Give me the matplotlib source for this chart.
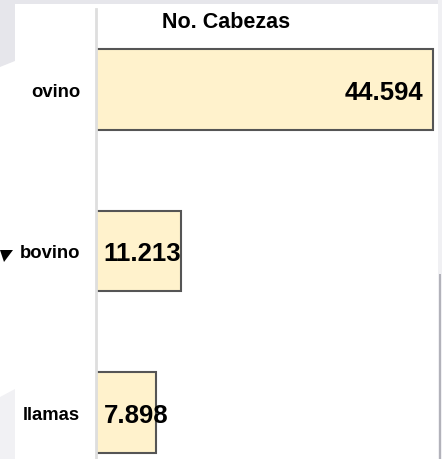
import matplotlib
matplotlib.use("Agg")
import matplotlib.pyplot as plt
from matplotlib.patches import Rectangle, Polygon

plt.rcParams['font.family'] = ['Liberation Sans', 'DejaVu Sans']

# data
categories = ['ovino', 'bovino', 'llamas']
values = [44.594, 11.213, 7.898]
labels = ['44.594', '11.213', '7.898']
title = 'No. Cabezas'

W, H = 442, 460
fig = plt.figure(figsize=(W / 100, H / 100), dpi=100)
fig.patch.set_facecolor('white')

# screenshot background bits (grey page behind white card)
grey = '#e6e6eb'
fig.patches.append(Rectangle((0, 1 - 5 / H), 1, 5 / H, transform=fig.transFigure,
                             facecolor=grey, edgecolor='none', zorder=0))
fig.patches.append(Polygon([(0, 1), (15 / W, 1), (15 / W, 1 - 62 / H), (0, 1 - 68 / H)],
                           closed=True, transform=fig.transFigure,
                           facecolor=grey, edgecolor='none', zorder=0))
fig.patches.append(Polygon([(0, 0), (15 / W, 0), (15 / W, 70 / H), (0, 62 / H)],
                           closed=True, transform=fig.transFigure,
                           facecolor='#f1f1f4', edgecolor='none', zorder=0))
fig.patches.append(Rectangle((438 / W, 0), 4 / W, 1, transform=fig.transFigure,
                             facecolor='#f0f0f3', edgecolor='none', zorder=0))
fig.patches.append(Rectangle((439 / W, 0), 2 / W, 185 / H, transform=fig.transFigure,
                             facecolor='#b2b2ba', edgecolor='none', zorder=0))
# little dropdown triangle
fig.patches.append(Polygon([(0, 1 - 251 / H), (13 / W, 1 - 251 / H), (4 / W, 1 - 263 / H)],
                           closed=True, transform=fig.transFigure,
                           facecolor='black', edgecolor='none', zorder=3))

# axes placement in pixels
x0, x1 = 96, 438
y_top = 10
ax = fig.add_axes([x0 / W, 0, (x1 - x0) / W, (H - y_top) / H])
ax.patch.set_alpha(0)

px_per_unit = 337 / values[0]
pos = list(range(len(categories)))
ax.barh(pos, values, height=0.5, color='#fff2cc', edgecolor='#555555', linewidth=1.5, zorder=2)

ax.set_xlim(0, (x1 - x0) / px_per_unit)
step = 161.5
ax.set_ylim((H - 90.5) / step, (y_top - 90.5) / step)

for s in ['top', 'right', 'bottom']:
    ax.spines[s].set_visible(False)
ax.spines['left'].set_color('#dedede')
ax.spines['left'].set_linewidth(2)
ax.set_xticks([])
ax.set_yticks(pos)
ax.set_yticklabels(categories, fontsize=13.3, fontweight='bold')
ax.tick_params(axis='y', length=0, pad=11.5)

for p, v, lab in zip(pos, values, labels):
    if v > 20:
        ax.annotate(lab, (v, p), xytext=(-7, -1.5), textcoords='offset points',
                    ha='right', va='center', fontsize=18.5, fontweight='bold', zorder=4)
    else:
        ax.annotate(lab, (0, p), xytext=(5.5, -1.5), textcoords='offset points',
                    ha='left', va='center', fontsize=18.5, fontweight='bold', zorder=4)

fig.text(226 / W, 1 - 23 / H, title, ha='center', va='center', fontsize=15.5, fontweight='bold')

fig.savefig('out.png', dpi=100)
